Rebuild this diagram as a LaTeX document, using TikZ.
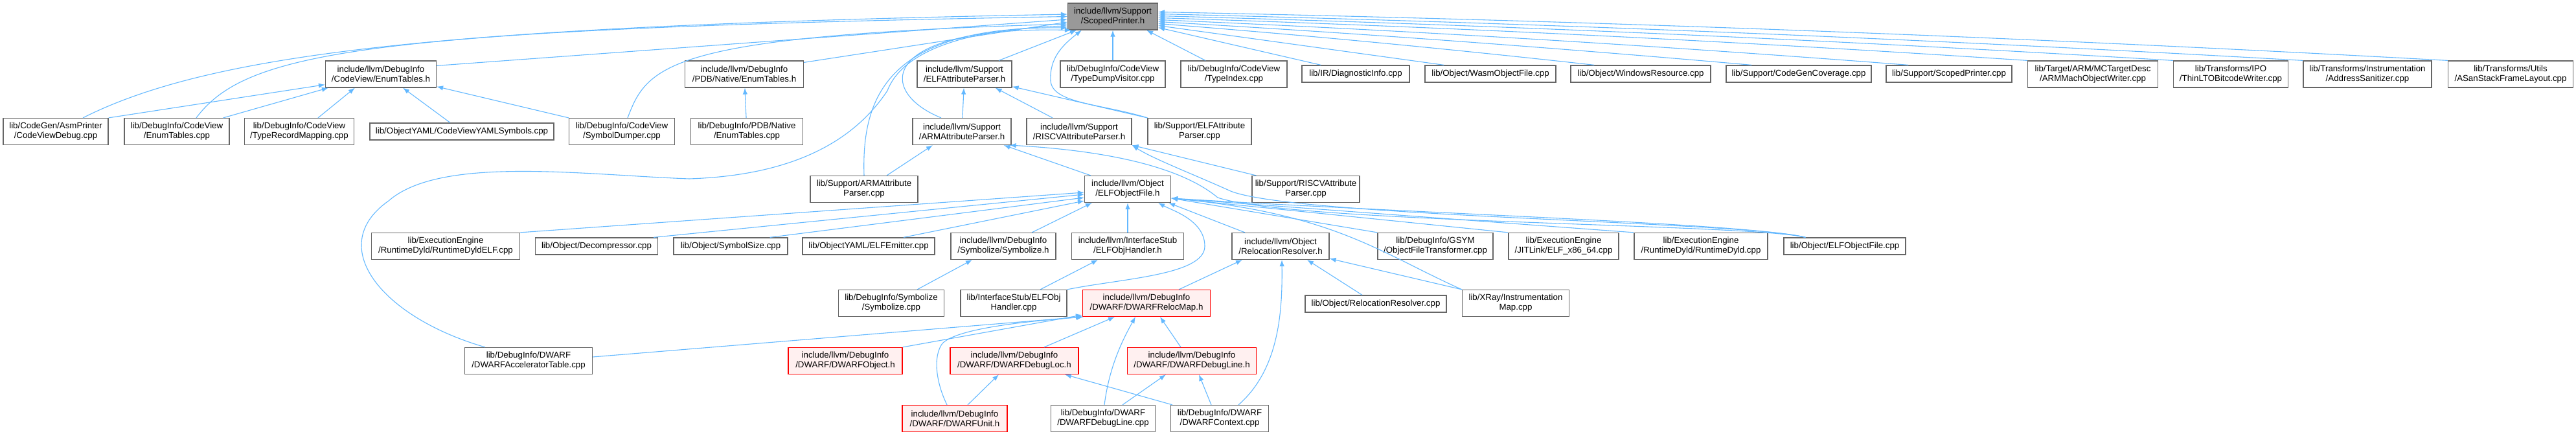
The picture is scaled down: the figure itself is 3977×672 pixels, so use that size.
\documentclass[tikz,border=0pt]{standalone}
\usepackage{fontspec}
\newfontfamily\doxfont{Liberation Sans}
\usetikzlibrary{arrows.meta}
\definecolor{edgeblue}{HTML}{63B8FF}
\definecolor{nodegray}{HTML}{666666}
\definecolor{rootgray}{HTML}{999999}
\definecolor{redfill}{HTML}{FFF0F0}
\begin{document}
\begin{tikzpicture}[x=1pt,y=-1pt,
  nd/.style={draw=nodegray, line width=1.2pt, fill=white, rectangle, align=center, inner sep=1pt, font=\doxfont\fontsize{13.3}{15}\selectfont},
  nd2/.style={nd, minimum height=41pt},
  nd1/.style={nd, minimum height=26pt},
  bw/.style={minimum width=#1pt},
  rootnd/.style={fill=rootgray},
  rednd/.style={draw=red, fill=redfill},
  ed/.style={draw=edgeblue, line width=1.1pt, -{Latex[length=10pt,width=7.5pt]}}]
\useasboundingbox (0,0) rectangle (3977,672);
% row 1
\node[nd2,bw=139,rootnd] (sp) at (1718,25.5) {include/llvm/Support\\/ScopedPrinter.h};
% row 2
\node[nd2,bw=171] (cvEnumH) at (588,114.5) {include/llvm/DebugInfo\\/CodeView/EnumTables.h};
\node[nd2,bw=183] (pdbEnumH) at (1149,114.5) {include/llvm/DebugInfo\\/PDB/Native/EnumTables.h};
\node[nd2,bw=146] (elfAttrH) at (1489,114.5) {include/llvm/Support\\/ELFAttributeParser.h};
\node[nd2,bw=162] (typeDump) at (1718,114.5) {lib/DebugInfo/CodeView\\/TypeDumpVisitor.cpp};
\node[nd2,bw=164] (typeIndex) at (1905,114.5) {lib/DebugInfo/CodeView\\/TypeIndex.cpp};
\node[nd1,bw=166] (diag) at (2093,114) {lib/IR/DiagnosticInfo.cpp};
\node[nd1,bw=202] (wasm) at (2301,114) {lib/Object/WasmObjectFile.cpp};
\node[nd1,bw=216] (winres) at (2533,114) {lib/Object/WindowsResource.cpp};
\node[nd1,bw=224] (cgcov) at (2777,114) {lib/Support/CodeGenCoverage.cpp};
\node[nd1,bw=194] (spcpp) at (3009,114) {lib/Support/ScopedPrinter.cpp};
\node[nd2,bw=201] (armmach) at (3231,114.5) {lib/Target/ARM/MCTargetDesc\\/ARMMachObjectWriter.cpp};
\node[nd2,bw=177] (thinlto) at (3444,114.5) {lib/Transforms/IPO\\/ThinLTOBitcodeWriter.cpp};
\node[nd2,bw=198] (asan) at (3655,114.5) {lib/Transforms/Instrumentation\\/AddressSanitizer.cpp};
\node[nd2,bw=193] (asanstack) at (3876,114.5) {lib/Transforms/Utils\\/ASanStackFrameLayout.cpp};
% row 3
\node[nd2,bw=162] (cvdebug) at (86,203) {lib/CodeGen/AsmPrinter\\/CodeViewDebug.cpp};
\node[nd2,bw=162] (cvEnumCpp) at (273,203) {lib/DebugInfo/CodeView\\/EnumTables.cpp};
\node[nd2,bw=169] (trm) at (462,203) {lib/DebugInfo/CodeView\\/TypeRecordMapping.cpp};
\node[nd1,bw=284] (yamlsym) at (713,203) {lib/ObjectYAML/CodeViewYAMLSymbols.cpp};
\node[nd2,bw=163] (symdump) at (960,203) {lib/DebugInfo/CodeView\\/SymbolDumper.cpp};
\node[nd2,bw=173] (pdbEnumCpp) at (1153,203) {lib/DebugInfo/PDB/Native\\/EnumTables.cpp};
\node[nd2,bw=152] (armAttrH) at (1485,203) {include/llvm/Support\\/ARMAttributeParser.h};
\node[nd2,bw=162] (riscvAttrH) at (1666,203) {include/llvm/Support\\/RISCVAttributeParser.h};
\node[nd2,bw=160] (elfAttrCpp) at (1852,203) {lib/Support/ELFAttribute\\Parser.cpp};
% row 4
\node[nd2,bw=166] (armAttrCpp) at (1334,292) {lib/Support/ARMAttribute\\Parser.cpp};
\node[nd2,bw=133] (elfObjH) at (1741,292) {include/llvm/Object\\/ELFObjectFile.h};
\node[nd2,bw=166] (riscvAttrCpp) at (2016,292) {lib/Support/RISCVAttribute\\Parser.cpp};
% row 5
\node[nd2,bw=229] (rdelf) at (688,380) {lib/ExecutionEngine\\/RuntimeDyld/RuntimeDyldELF.cpp};
\node[nd1,bw=189] (decomp) at (921,380) {lib/Object/Decompressor.cpp};
\node[nd1,bw=176] (symsize) at (1128,380) {lib/Object/SymbolSize.cpp};
\node[nd1,bw=204] (elfemit) at (1341,380) {lib/ObjectYAML/ELFEmitter.cpp};
\node[nd2,bw=162] (symbolizeH) at (1549,380) {include/llvm/DebugInfo\\/Symbolize/Symbolize.h};
\node[nd2,bw=173] (elfobjhH) at (1741,380) {include/llvm/InterfaceStub\\/ELFObjHandler.h};
\node[nd2,bw=150] (relocH) at (1977,380) {include/llvm/Object\\/RelocationResolver.h};
\node[nd2,bw=178] (gsym) at (2216,380) {lib/DebugInfo/GSYM\\/ObjectFileTransformer.cpp};
\node[nd2,bw=170] (jitlink) at (2414,380) {lib/ExecutionEngine\\/JITLink/ELF\_x86\_64.cpp};
\node[nd2,bw=206] (rdyld) at (2626,380) {lib/ExecutionEngine\\/RuntimeDyld/RuntimeDyld.cpp};
\node[nd1,bw=188] (elfobjcpp) at (2848,380) {lib/Object/ELFObjectFile.cpp};
% row 6
\node[nd2,bw=163] (symbolizeCpp) at (1376,468) {lib/DebugInfo/Symbolize\\/Symbolize.cpp};
\node[nd2,bw=164] (elfobjhCpp) at (1565,468) {lib/InterfaceStub/ELFObj\\Handler.cpp};
\node[nd2,bw=197,rednd] (relocmap) at (1770,468) {include/llvm/DebugInfo\\/DWARF/DWARFRelocMap.h};
\node[nd1,bw=218] (relocCpp) at (2124,469) {lib/Object/RelocationResolver.cpp};
\node[nd2,bw=165] (xray) at (2340,468) {lib/XRay/Instrumentation\\Map.cpp};
% row 7
\node[nd2,bw=197] (accel) at (816,557) {lib/DebugInfo/DWARF\\/DWARFAcceleratorTable.cpp};
\node[nd2,bw=176,rednd] (dwobj) at (1305,557) {include/llvm/DebugInfo\\/DWARF/DWARFObject.h};
\node[nd2,bw=198,rednd] (dwloc) at (1566,557) {include/llvm/DebugInfo\\/DWARF/DWARFDebugLoc.h};
\node[nd2,bw=199,rednd] (dwlineH) at (1840,557) {include/llvm/DebugInfo\\/DWARF/DWARFDebugLine.h};
% row 8
\node[nd2,bw=162,rednd] (dwunit) at (1474,646) {include/llvm/DebugInfo\\/DWARF/DWARFUnit.h};
\node[nd2,bw=161] (dwlineCpp) at (1703,646) {lib/DebugInfo/DWARF\\/DWARFDebugLine.cpp};
\node[nd2,bw=151] (dwctx) at (1883,646) {lib/DebugInfo/DWARF\\/DWARFContext.cpp};

% ---- edges into ScopedPrinter.h
\draw[ed] ([xshift=42pt]cvdebug.north) .. controls (330,80) and (700,40) .. ([yshift=3.5pt]sp.west);
\draw[ed] ([xshift=30pt]cvEnumCpp.north) .. controls (380,80) and (560,45) .. (sp.west);
\draw[ed] ([yshift=-8pt]cvEnumH.north east) -- ([yshift=-4.5pt]sp.west);
\draw[ed] ([yshift=-3pt]pdbEnumH.north east) -- ([yshift=-8.5pt]sp.west);
\draw[ed] ([xshift=9pt]symdump.north) .. controls (1000,100) and (1030,55) .. ([yshift=-11.5pt]sp.west);
\draw[ed] ([xshift=-67pt]accel.north) .. controls (590,490) and (500,380) .. (600,310)
   .. controls (680,240) and (900,270) .. (1064,276)
   .. controls (1250,270) and (1330,200) .. (1370,140)
   .. controls (1395,75) and (1500,45) .. ([yshift=-14.5pt]sp.west);
\draw[ed] (armAttrCpp.north) .. controls (1330,150) and (1370,40) .. ([yshift=-17.5pt]sp.west);
\draw[ed] ([xshift=-32pt]armAttrH.north) .. controls (1350,140) and (1360,40) .. ([xshift=6pt]sp.south west);
\draw[ed] ([xshift=53pt]elfAttrH.north) -- ([xshift=14pt]sp.south west);
\draw[ed] (elfAttrCpp.north west) .. controls (1700,160) and (1625,160) .. (1622,125)
   .. controls (1620,90) and (1640,70) .. ([xshift=22pt]sp.south west);
\draw[ed] (typeDump) -- (sp);
\draw[ed] ([xshift=-44pt]typeIndex.north) -- ([xshift=-18pt]sp.south east);
\draw[ed] ([xshift=30pt]diag.north west) -- ([yshift=-17pt]sp.east);
\draw[ed] ([xshift=30pt]wasm.north west) -- ([yshift=-14pt]sp.east);
\draw[ed] ([xshift=37pt]winres.north west) .. controls (2237,75.5) and (2013,54) .. ([yshift=-11pt]sp.east);
\draw[ed] ([xshift=40pt]cgcov.north west) .. controls (2399,73.5) and (2094,51) .. ([yshift=-8pt]sp.east);
\draw[ed] ([xshift=35pt]spcpp.north west) .. controls (2561,70.5) and (2174,47) .. ([yshift=-5pt]sp.east);
\draw[ed] (armmach.north west) .. controls (2683,63.8) and (2235,41.7) .. ([yshift=-2pt]sp.east);
\draw[ed] (thinlto.north west) .. controls (2833,61.8) and (2310,38.7) .. ([yshift=1pt]sp.east);
\draw[ed] (asan.north west) .. controls (2967,59.8) and (2377,35.7) .. ([yshift=4pt]sp.east);
\draw[ed] (asanstack.north west) .. controls (3115,56.8) and (2452,31.7) .. ([yshift=7pt]sp.east);

% ---- edges into CodeView/EnumTables.h
\draw[ed] (cvdebug.north east) -- ([yshift=5pt]cvEnumH.south west);
\draw[ed] ([xshift=-10pt]cvEnumCpp.north east) -- ([xshift=5pt]cvEnumH.south west);
\draw[ed] ([xshift=29pt]trm.north) -- ([xshift=46pt]cvEnumH.south west);
\draw[ed] ([xshift=-18pt]yamlsym.north) -- ([xshift=34pt]cvEnumH.south);
\draw[ed] (symdump.north west) -- ([yshift=2pt]cvEnumH.south east);
% PDB
\draw[ed] (pdbEnumCpp) -- (pdbEnumH);
% ---- ELFAttributeParser.h
\draw[ed] (armAttrH) -- (elfAttrH);
\draw[ed] ([xshift=-41pt]riscvAttrH.north) -- ([xshift=-26pt]elfAttrH.south east);
\draw[ed] (elfAttrCpp.north west) -- ([yshift=2pt]elfAttrH.south east);
% ---- ARMAttributeParser.h
\draw[ed] ([xshift=35pt]armAttrCpp.north) -- ([xshift=-45pt]armAttrH.south);
\draw[ed] ([xshift=10pt]elfObjH.north west) -- ([xshift=-12pt]armAttrH.south east);
\draw[ed] ([xshift=34pt]elfobjcpp.north west) .. controls (2700,345) and (2000,345) .. (1880,305)
   .. controls (1820,255) and (1700,232) .. ([xshift=-3pt]armAttrH.south east);
% ---- RISCVAttributeParser.h
\draw[ed] ([xshift=7pt]riscvAttrCpp.north west) -- (riscvAttrH.south east);
\draw[ed] ([xshift=34pt]elfobjcpp.north west) .. controls (2700,342) and (2000,335) .. (1900,295)
   .. controls (1840,268) and (1780,245) .. (riscvAttrH.south east);
% ---- ELFObjectFile.h
\draw[ed] (rdelf.north east) -- ([yshift=-5pt]elfObjH.west);
\draw[ed] ([xshift=-7pt]decomp.north east) -- ([yshift=-8pt]elfObjH.west);
\draw[ed] ([xshift=-28pt]symsize.north east) -- ([yshift=-13pt]elfObjH.west);
\draw[ed] ([xshift=54pt]elfemit.north) -- ([yshift=-18pt]elfObjH.west);
\draw[ed] ([xshift=44pt]symbolizeH.north) -- ([xshift=12pt]elfObjH.south west);
\draw[ed] (elfobjhH) -- (elfObjH);
\draw[ed] (elfobjhCpp.north east) .. controls (1730,430) and (1860,425) .. (1860,380)
   .. controls (1860,340) and (1810,325) .. ([xshift=-20pt]elfObjH.south east);
\draw[ed] ([xshift=-55pt]relocH.north) -- ([xshift=-4pt]elfObjH.south east);
\draw[ed] (gsym.north west) -- ([yshift=-14pt]elfObjH.east);
\draw[ed] (jitlink.north west) -- ([yshift=-14pt]elfObjH.east);
\draw[ed] (rdyld.north west) -- ([yshift=-14pt]elfObjH.east);
\draw[ed] ([xshift=34pt]elfobjcpp.north west) .. controls (2700,345) and (2200,330) .. ([yshift=-14pt]elfObjH.east);
\draw[ed] (xray.north west) .. controls (2130,390) and (2060,330) .. ([yshift=-14pt]elfObjH.east);
% ---- Symbolize.h / ELFObjHandler.h
\draw[ed] ([xshift=40pt]symbolizeCpp.north) -- ([xshift=-48pt]symbolizeH.south);
\draw[ed] ([xshift=41pt]elfobjhCpp.north) -- ([xshift=-46pt]elfobjhH.south);
% ---- RelocationResolver.h
\draw[ed] (xray.north west) -- ([yshift=2pt]relocH.south east);
\draw[ed] ([xshift=-21pt]relocCpp.north) -- ([xshift=41pt]relocH.south);
\draw[ed] ([xshift=50pt]relocmap.north) -- ([xshift=-59pt]relocH.south);
\draw[ed] ([xshift=29pt]dwctx.north) .. controls (1975,570) and (1980,480) .. ([xshift=2pt]relocH.south);
% ---- DWARFRelocMap.h
\draw[ed] ([yshift=6pt]accel.east) -- (relocmap.south west);
\draw[ed] (dwobj.north east) -- ([yshift=3pt]relocmap.south west);
\draw[ed] ([xshift=-12pt]dwunit.north) .. controls (1445,590) and (1440,550) .. (1455,530)
   .. controls (1480,505) and (1600,495) .. ([xshift=2pt]relocmap.south west);
\draw[ed] ([xshift=46pt]dwloc.north) -- ([xshift=-49pt]relocmap.south);
\draw[ed] ([xshift=2pt]dwlineCpp.north) .. controls (1712,570) and (1730,530) .. ([xshift=-17pt]relocmap.south);
\draw[ed] ([xshift=-17pt]dwlineH.north) -- ([xshift=21pt]relocmap.south);
% ---- DWARFDebugLoc.h
\draw[ed] ([xshift=20pt]dwunit.north) -- ([xshift=-24pt]dwloc.south);
\draw[ed] ([xshift=-73pt]dwctx.north) -- ([xshift=78pt]dwloc.south);
% ---- DWARFDebugLine.h
\draw[ed] ([xshift=30pt]dwlineCpp.north) -- ([xshift=-40pt]dwlineH.south);
\draw[ed] ([xshift=-13pt]dwctx.north) -- ([xshift=11pt]dwlineH.south);
\end{tikzpicture}
\end{document}
